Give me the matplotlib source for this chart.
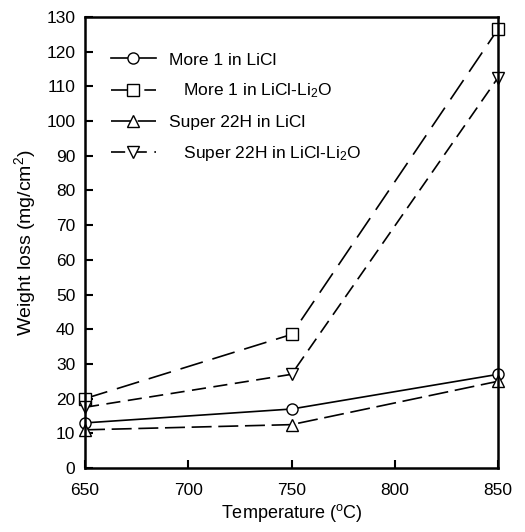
import matplotlib
matplotlib.use("Agg")
import matplotlib.pyplot as plt

plt.rcParams['font.family'] = ['Liberation Sans', 'DejaVu Sans']
plt.rcParams['mathtext.fontset'] = 'custom'
plt.rcParams['mathtext.rm'] = 'Liberation Sans'
plt.rcParams['mathtext.it'] = 'Liberation Sans'

temps = [650, 750, 850]
more1_licl = [13, 17, 27]
more1_licl_li2o = [20, 38.5, 126.5]
super22h_licl = [11, 12.5, 25]
super22h_licl_li2o = [17.5, 27, 112.5]
labels = ['More 1 in LiCl', '   More 1 in LiCl-Li$_\\mathrm{2}$O',
          'Super 22H in LiCl', '   Super 22H in LiCl-Li$_\\mathrm{2}$O']

fig = plt.figure(figsize=(5.25, 5.32), dpi=100)
ax = fig.add_axes([85 / 525, 1 - 468 / 532, 413 / 525, 451 / 532])

mk = dict(markerfacecolor='white', markeredgecolor='black', markersize=8,
          color='black', linewidth=1.2, markeredgewidth=1.0, clip_on=False)
ax.plot(temps, more1_licl, marker='o', linestyle='-', label=labels[0], **mk)
ax.plot(temps, more1_licl_li2o, marker='s', linestyle=(0, (14, 6)), label=labels[1], **mk)
ax.plot(temps, super22h_licl, marker='^', linestyle=(0, (12, 4)), label=labels[2], **mk)
ax.plot(temps, super22h_licl_li2o, marker='v', linestyle=(0, (8.5, 4.5)), label=labels[3], **mk)

ax.set_xlim(650, 850)
ax.set_ylim(0, 130)
ax.set_xticks([650, 700, 750, 800, 850])
ax.set_yticks(range(0, 131, 10))
ax.tick_params(direction='in', length=6, width=1.5, labelsize=12.5, top=False, right=False)
ax.tick_params(axis='x', pad=11)
ax.tick_params(axis='y', pad=7)
for s in ax.spines.values():
    s.set_linewidth(1.8)
ax.set_xlabel('Temperature ($^\\mathrm{o}$C)', fontsize=13, labelpad=3)
ax.set_ylabel('Weight loss (mg/cm$^\\mathrm{2}$)', fontsize=14, labelpad=6)

ax.legend(loc='upper left', frameon=False, fontsize=12.5, bbox_to_anchor=(0.045, 0.937),
          handlelength=2.6, labelspacing=0.82, handletextpad=0.75, borderaxespad=0)

fig.savefig('out.png', dpi=100)
